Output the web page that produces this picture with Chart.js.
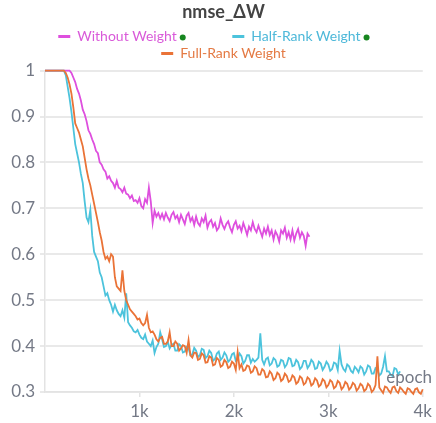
<!DOCTYPE html>
<html><head><meta charset="utf-8">
<script src="https://cdn.jsdelivr.net/npm/chart.js@4.4.1/dist/chart.umd.min.js"></script>
<style>html,body{margin:0;padding:0;background:#fff}#wrap{width:436px;height:423px}</style>
</head><body><div id="wrap"><canvas id="c"></canvas></div>
<script>
const epochs = [0,20,40,60,80,100,120,140,160,180,200,220,240,260,280,300,320,340,360,380,400,420,440,460,480,500,520,540,560,580,600,620,640,660,680,700,720,740,760,780,800,820,840,860,880,900,920,940,960,980,1000,1020,1040,1060,1080,1100,1120,1140,1160,1180,1200,1220,1240,1260,1280,1300,1320,1340,1360,1380,1400,1420,1440,1460,1480,1500,1520,1540,1560,1580,1600,1620,1640,1660,1680,1700,1720,1740,1760,1780,1800,1820,1840,1860,1880,1900,1920,1940,1960,1980,2000,2020,2040,2060,2080,2100,2120,2140,2160,2180,2200,2220,2240,2260,2280,2300,2320,2340,2360,2380,2400,2420,2440,2460,2480,2500,2520,2540,2560,2580,2600,2620,2640,2660,2680,2700,2720,2740,2760,2780,2800,2820,2840,2860,2880,2900,2920,2940,2960,2980,3000,3020,3040,3060,3080,3100,3120,3140,3160,3180,3200,3220,3240,3260,3280,3300,3320,3340,3360,3380,3400,3420,3440,3460,3480,3500,3520,3540,3560,3580,3600,3620,3640,3660,3680,3700,3720,3740,3760,3780,3800,3820,3840,3860,3880,3900,3920,3940,3960,3980,4000];

const withoutWeight = [
1,1,1,1,1,1,1,1,1,1,1,1,1,1,
0.995,0.985,0.975,0.96,0.95,0.935,0.915,0.905,0.89,0.87,0.862,0.85,0.84,0.825,0.82,0.80,
0.795,0.785,0.78,0.765,0.77,0.76,0.755,0.745,0.76,0.745,0.742,0.735,0.745,0.732,0.73,0.722,
0.728,0.716,0.718,0.712,0.722,0.705,0.70,0.72,0.712,0.745,0.715,0.668,0.695,0.682,0.69,0.678,
0.688,0.676,0.69,0.68,0.672,0.686,0.692,0.678,0.684,0.67,0.686,0.676,0.666,0.684,0.69,0.672,
0.68,0.664,0.682,0.668,0.662,0.678,0.67,0.684,0.658,0.67,0.675,0.66,0.668,0.652,0.658,0.678,
0.664,0.655,0.666,0.672,0.658,0.648,0.664,0.672,0.656,0.662,0.65,0.668,0.656,0.642,0.66,0.652,
0.67,0.655,0.648,0.662,0.65,0.638,0.656,0.645,0.66,0.642,0.652,0.632,0.65,0.642,0.628,0.652,
0.645,0.658,0.636,0.648,0.632,0.652,0.63,0.645,0.655,0.636,0.648,0.64,0.618,0.645,0.638];

const halfRankWeight = [
1,1,1,1,1,1,1,1,1,1,1,
0.99,0.965,0.94,0.91,0.875,0.84,0.82,0.80,0.775,0.755,0.715,0.68,0.67,0.697,0.64,0.605,0.595,0.585,0.56,
0.55,0.53,0.51,0.515,0.50,0.49,0.475,0.49,0.478,0.47,0.465,0.478,0.462,0.515,0.452,0.445,0.44,0.432,0.43,0.435,
0.425,0.418,0.415,0.425,0.41,0.405,0.40,0.412,0.385,0.398,0.405,0.43,0.415,0.398,0.40,0.41,0.395,0.402,0.405,0.39,
0.39,0.404,0.40,0.386,0.388,0.398,0.395,0.38,0.382,0.396,0.39,0.376,0.38,0.394,0.392,0.374,0.378,0.39,0.385,0.368,
0.372,0.384,0.388,0.37,0.375,0.386,0.38,0.366,0.37,0.382,0.385,0.368,0.372,0.384,0.378,0.362,0.368,0.38,0.38,0.364,
0.372,0.366,0.37,0.375,0.428,0.37,0.36,0.372,0.375,0.358,0.362,0.374,0.37,0.355,0.358,0.37,0.368,0.354,0.36,0.374,
0.372,0.356,0.358,0.37,0.365,0.35,0.355,0.368,0.368,0.352,0.358,0.37,0.365,0.35,0.352,0.366,0.362,0.348,0.355,0.366,
0.36,0.346,0.35,0.364,0.362,0.348,0.39,0.36,0.35,0.345,0.36,0.356,0.346,0.342,0.355,0.35,0.343,0.356,0.352,0.338,
0.345,0.358,0.355,0.34,0.34,0.352,0.35,0.336,0.34,0.355,0.378,0.345,0.345,0.338,0.335,0.352,0.35,0.338,0.345];

const fullRankWeight = [
1,1,1,1,1,1,1,1,1,1,1,
0.995,0.985,0.97,0.95,0.92,0.885,0.875,0.865,0.85,0.835,0.81,0.785,0.765,0.75,0.73,0.71,0.69,0.67,0.648,
0.63,0.605,0.59,0.595,0.585,0.60,0.595,0.55,0.53,0.525,0.52,0.565,0.52,0.50,0.49,0.48,0.475,0.47,0.465,0.458,
0.46,0.45,0.445,0.45,0.468,0.44,0.43,0.432,0.425,0.415,0.41,0.418,0.42,0.405,0.405,0.41,0.43,0.40,0.40,0.41,
0.405,0.39,0.395,0.402,0.40,0.385,0.413,0.38,0.375,0.386,0.385,0.37,0.372,0.384,0.38,0.364,0.365,0.378,0.375,0.358,
0.36,0.374,0.37,0.355,0.358,0.37,0.365,0.352,0.355,0.366,0.362,0.348,0.387,0.352,0.36,0.346,0.348,0.358,0.356,0.342,
0.345,0.356,0.352,0.338,0.338,0.35,0.346,0.332,0.333,0.345,0.34,0.326,0.33,0.342,0.338,0.324,0.328,0.34,0.335,0.322,
0.325,0.336,0.332,0.318,0.322,0.334,0.33,0.316,0.32,0.332,0.328,0.314,0.318,0.33,0.325,0.312,0.316,0.328,0.324,0.31,
0.315,0.326,0.322,0.308,0.312,0.324,0.32,0.306,0.311,0.322,0.318,0.305,0.31,0.32,0.316,0.303,0.308,0.318,0.314,0.302,
0.306,0.318,0.313,0.30,0.305,0.315,0.378,0.31,0.304,0.298,0.312,0.31,0.303,0.298,0.31,0.312,0.302,0.298,0.31,0.306,
0.30,0.296,0.308,0.306,0.30,0.296,0.306,0.308,0.299,0.296,0.306];

const seriesNames = ['Without Weight','Half-Rank Weight','Full-Rank Weight'];
const legendPad = ['\u2002\u2002\u2002\u2002\u2002\u2002\u2002 ','\u2002\u2002\u2002  ',''];
const lineColors = ['#de4fde','#4cc3dc','#ea7337'];
const textColors = ['#d95ad9','#4db8d9','#e47a44'];
const hasDot = [true,true,false];
const yTicks = [0.3,0.4,0.5,0.6,0.7,0.8,0.9,1];
const xTicks = [1000,2000,3000,4000];
const xTickLabels = ['1k','2k','3k','4k'];
const title = 'nmse_\u0394W';
const xTitle = 'epoch';

const seriesValues = [withoutWeight, halfRankWeight, fullRankWeight];
const FONT = 'Lato, "Noto Sans", sans-serif';
const TICK = '#747986';

const extras = {
  id: 'extras',
  afterDraw(chart) {
    const ctx = chart.ctx;
    const lg = chart.legend;
    ctx.save();
    ctx.font = '14px ' + FONT;
    lg.legendHitBoxes.forEach((hb, i) => {
      if (!hasDot[i]) return;
      const tw = ctx.measureText(seriesNames[i]).width;
      const x = hb.left + 12 + 7 + tw + 6;
      const y = hb.top + hb.height / 2 + 1;
      ctx.beginPath();
      ctx.arc(x, y, 3, 0, Math.PI * 2);
      ctx.fillStyle = '#17861f';
      ctx.fill();
    });
    ctx.font = '17px ' + FONT;
    ctx.fillStyle = TICK;
    ctx.textAlign = 'right';
    ctx.textBaseline = 'alphabetic';
    ctx.fillText(xTitle, 432, 383);
    ctx.restore();
  }
};

new Chart(document.getElementById('c'), {
  type: 'line',
  data: {
    datasets: seriesNames.map((name, i) => ({
      label: name,
      data: seriesValues[i].map((v, k) => ({x: epochs[k], y: v})),
      borderColor: lineColors[i],
      backgroundColor: lineColors[i],
      borderWidth: 1.8,
      pointRadius: 0,
      tension: 0,
      clip: 4,
      order: i === 2 ? 0 : (i === 1 ? 1 : 2)
    }))
  },
  options: {
    responsive: true,
    maintainAspectRatio: false,
    animation: false,
    layout: {padding: {left: 22, right: 11, top: 0, bottom: 0}},
    plugins: {
      title: {display: true, text: title, color: '#444', font: {family: FONT, size: 18, weight: 'bold'}, padding: {top: 1, bottom: 4}},
      legend: {
        position: 'top',
        labels: {
          boxWidth: 12, boxHeight: 3, padding: 3,
          font: {family: FONT, size: 14},
          generateLabels: (chart) => {
            const items = Chart.defaults.plugins.legend.labels.generateLabels(chart);
            items.forEach((it, i) => {
              it.text = seriesNames[i] + legendPad[i];
              it.fontColor = textColors[i];
              it.fillStyle = lineColors[i];
              it.strokeStyle = lineColors[i];
              it.lineWidth = 0;
            });
            return items;
          }
        }
      },
      tooltip: {enabled: false}
    },
    scales: {
      x: {
        type: 'linear', min: 0, max: 4000,
        afterBuildTicks: (s) => { s.ticks = xTicks.map(v => ({value: v})); },
        ticks: {
          callback: (v) => { const k = xTicks.indexOf(v); return k >= 0 ? xTickLabels[k] : ''; },
          color: TICK, font: {family: FONT, size: 17}, padding: 4, maxRotation: 0
        },
        grid: {drawOnChartArea: false, drawTicks: true, tickLength: 5, color: '#e3e3e3', lineWidth: 1.5},
        border: {display: true, color: '#e3e3e3', width: 1.5},
        afterFit: (s) => { s.height = 31; }
      },
      y: {
        min: 0.3, max: 1,
        afterBuildTicks: (s) => { s.ticks = yTicks.map(v => ({value: v})); },
        ticks: {
          callback: (v) => String(+v.toFixed(1)),
          color: TICK, font: {family: FONT, size: 17}, padding: 5
        },
        grid: {color: '#e9e9e9', lineWidth: 2, tickLength: 5},
        border: {display: true, color: '#e3e3e3', width: 1.5},
        afterFit: (s) => { s.width = 23; s._computeLabelArea = () => undefined; }
      }
    }
  },
  plugins: [extras]
});
</script></body></html>
